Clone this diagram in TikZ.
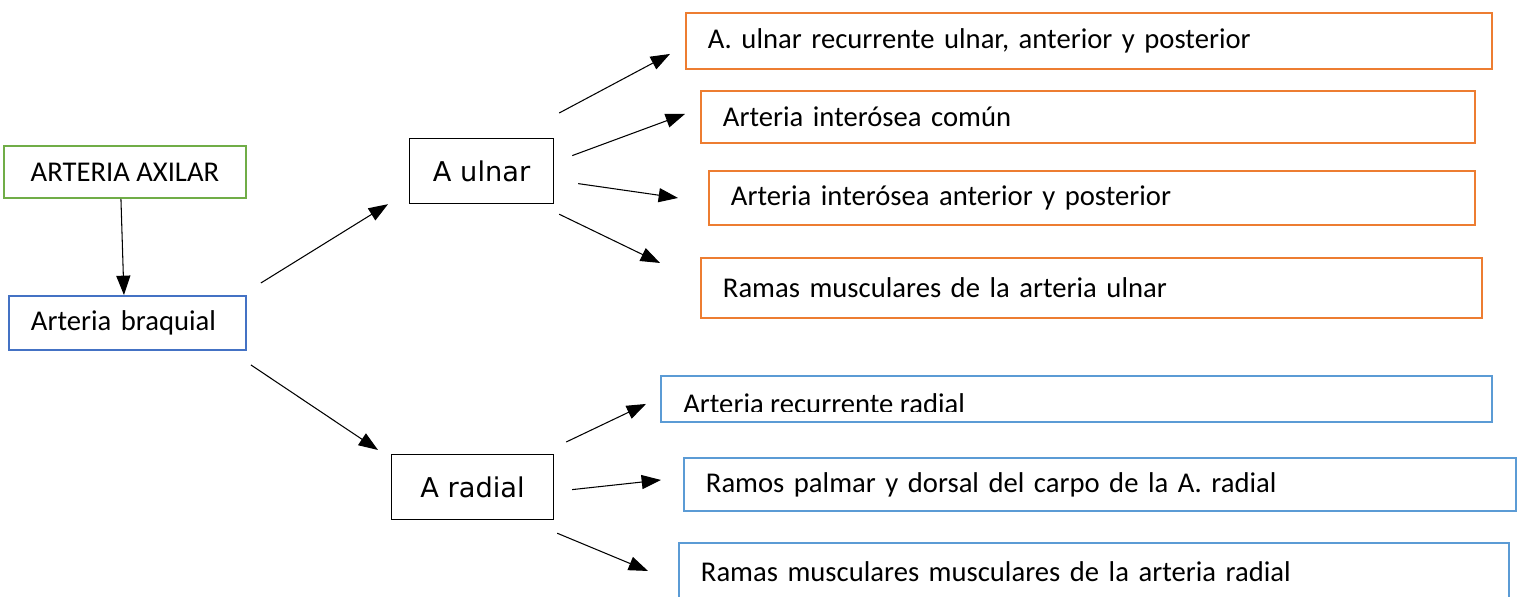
\documentclass[tikz,border=0pt]{standalone}
\usepackage{fontspec}
\setmainfont{Carlito}
\newfontfamily\handfont{DejaVu Sans}
\usepackage{xcolor}
\usetikzlibrary{arrows.meta,calc}
\definecolor{axgreen}{HTML}{70AD47}
\definecolor{brblue}{HTML}{4472C4}
\definecolor{uorange}{HTML}{ED7D31}
\definecolor{rblue}{HTML}{5B9BD5}
\tikzstyle{box}=[draw, anchor=north west, inner ysep=0pt, inner xsep=0.44cm, font=\fontsize{16.3}{19}\selectfont]
\tikzstyle{axbox}=[box, draw=axgreen, line width=1.1pt, align=center]
\tikzstyle{brbox}=[box, draw=brblue, line width=1.1pt, align=left]
\tikzstyle{abox}=[box, draw=black, line width=0.7pt, align=center, inner xsep=0pt, font=\handfont\fontsize{15.5}{18}\selectfont]
\tikzstyle{ubox}=[box, draw=uorange, line width=1.1pt, align=left]
\tikzstyle{rbox}=[box, draw=rblue, line width=1.1pt, align=left]
\tikzstyle{arr}=[-{Triangle[length=11pt,width=8pt]}, line width=0.6pt]

\begin{document}
\begin{tikzpicture}[x=0.02cm, y=-0.02cm]
	\useasboundingbox (0,0) rectangle (1517,597);
	% left column
	\node[axbox, minimum width=4.84cm, minimum height=1.04cm] (axilar) at (3,145) {ARTERIA AXILAR};
	\node[brbox, text width=3.86cm, minimum height=1.08cm] (braquial) at (8,295) {Arteria braquial};
	\node[abox, minimum width=2.88cm, minimum height=1.30cm] (ulnar) at (409,138) {A ulnar};
	\node[abox, minimum width=3.24cm, minimum height=1.30cm] (radial) at (391,454) {A radial};
	% ulnar branches
	\node[ubox, text width=15.24cm, minimum height=1.12cm] (u1) at (685,12) {A. ulnar recurrente ulnar, anterior y posterior};
	\node[ubox, text width=14.60cm, minimum height=1.04cm] (u2) at (700,90) {Arteria interósea común};
	\node[ubox, text width=14.44cm, minimum height=1.08cm] (u3) at (708,170) {Arteria interósea anterior y posterior};
	\node[ubox, text width=14.74cm, minimum height=1.20cm] (u4) at (700,257) {Ramas musculares de la arteria ulnar};
	% radial branches
	\node[rbox, minimum width=16.62cm, minimum height=0.92cm] (r1) at (660,375) {};
	\begin{scope}
		\clip (660,375) rectangle (1491,412);
		\node[anchor=base west, inner sep=0pt, font=\fontsize{16.3}{19}\selectfont] (r1text) at (683,414) {Arteria recurrente radial};
	\end{scope}
	\node[rbox, text width=15.76cm, minimum height=1.06cm] (r2) at (683,457) {Ramos palmar y dorsal del carpo de la A. radial};
	\node[rbox, text width=15.72cm, minimum height=1.16cm] (r3) at (678,542) {Ramas musculares musculares de la arteria radial};

	\draw[arr] ($(axilar.south)+(-4,0)$) -- ($(braquial.north)+(-3.5,0)$);
	\draw[arr] ($(braquial.north east)+(14,-12)$) -- ($(ulnar.south west)+(-21,0)$);
	\draw[arr] ($(braquial.south east)+(4,14)$) -- ($(radial.north west)+(-13,-4)$);

	\draw[arr] ($(ulnar.north east)+(5,-25)$) -- ($(u1.west)+(-15,13)$);
	\draw[arr] ($(ulnar.east)+(18,-15.5)$) -- ($(u2.west)+(-15,-3)$);
	\draw[arr] ($(ulnar.east)+(24,12.5)$) -- ($(u3.west)+(-30,0)$);
	\draw[arr] ($(ulnar.south east)+(5,10)$) -- ($(u4.west)+(-40,-25)$);

	\draw[arr] ($(radial.north east)+(12,-12)$) -- ($(r1.west)+(-14,5)$);
	\draw[arr] ($(radial.east)+(18,2.5)$) -- ($(r2.west)+(-22,-4.5)$);
	\draw[arr] ($(radial.south east)+(3,13)$) -- ($(r3.west)+(-30,-1)$);
\end{tikzpicture}
\end{document}
